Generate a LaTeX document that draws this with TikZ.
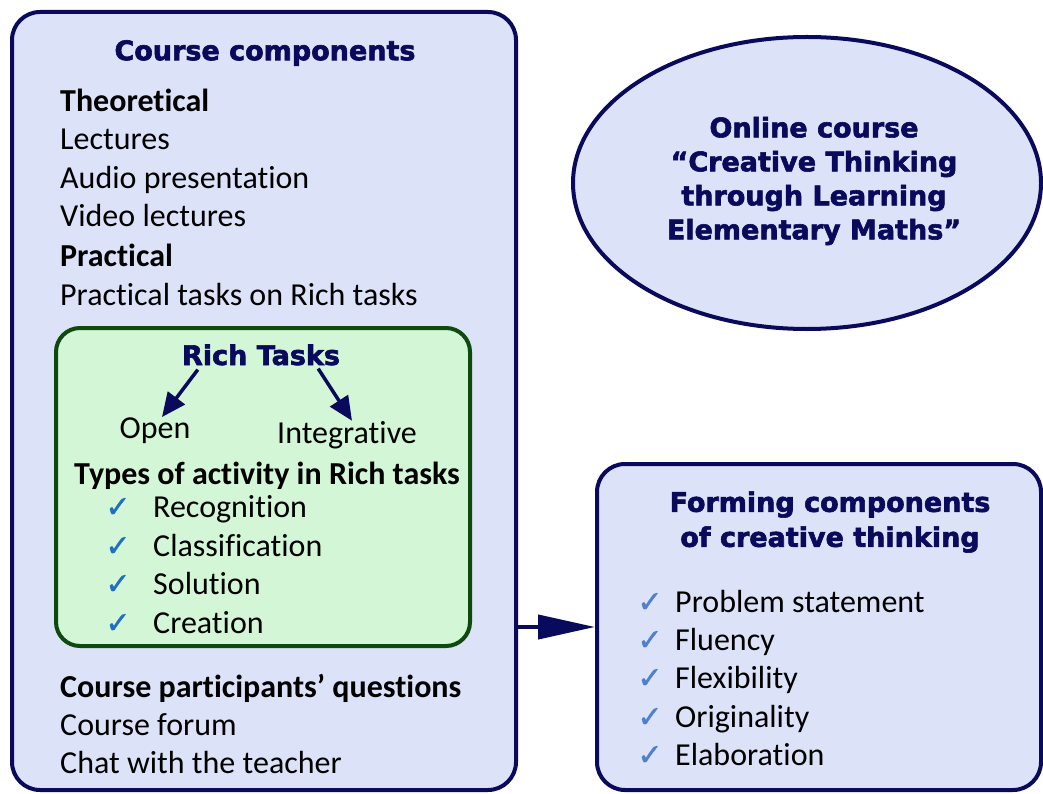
\documentclass[tikz,border=0pt]{standalone}
\usepackage{fontspec}
\setmainfont{Carlito}[Ligatures=NoCommon]
\newfontfamily\headfont{DejaVu Sans}[BoldFeatures={FakeBold=2.2}]
\newfontfamily\symfont{DejaVu Sans}[FakeBold=1.2]
\usepackage{xcolor}
\usetikzlibrary{shapes}
\usetikzlibrary{arrows.meta}
\usetikzlibrary{positioning}
\definecolor{navy}{HTML}{0A0A5C}
\definecolor{lavender}{HTML}{DCE2F8}
\definecolor{mint}{HTML}{D3F6D6}
\definecolor{darkgreen}{HTML}{0D4A0D}
\definecolor{tickblue}{HTML}{1F6FC2}
\definecolor{tickpale}{HTML}{4F80CC}
\tikzset{ panel/.style = {rectangle, rounded corners=28pt, draw=navy, line width=4pt, fill=lavender, inner sep=0pt} }
\tikzset{ greenbox/.style = {rectangle, rounded corners=24pt, draw=darkgreen, line width=4pt, fill=mint, inner sep=0pt} }
\tikzset{ oval/.style = {ellipse, draw=navy, line width=4pt, fill=lavender, inner sep=0pt} }
\tikzset{ head/.style = {inner sep=0pt, align=center, font=\headfont\bfseries\fontsize{27}{35}\selectfont, text=navy} }
\tikzset{ item/.style = {inner sep=0pt, anchor=base west, font=\fontsize{32}{38}\selectfont} }
\tikzset{ itembold/.style = {item, font=\bfseries\fontsize{32}{38}\selectfont} }
\tikzset{ tick/.style = {inner sep=0pt, anchor=base, font=\symfont\fontsize{30}{34}\selectfont} }
\tikzset{ smallarrow/.style = {draw=navy, line width=3.5pt, -{Triangle[length=24pt,width=21pt]}} }
\tikzset{ bigarrow/.style = {draw=navy, line width=4pt, -{Triangle[length=57pt,width=24pt]}} }

\begin{document}
\begin{tikzpicture}[x=1pt,y=-1pt]
\useasboundingbox (0,0) rectangle (1043,794);
% the three frames
\node [style=panel, minimum width=504pt, minimum height=778pt] (course) at (264,401) {};
\node [style=oval, minimum width=468pt, minimum height=292pt] (online) at (807,183) {};
\node [style=head, font=\headfont\bfseries\fontsize{27}{34}\selectfont] (onlinetext) at (814,181)
      {Online course\\“Creative Thinking\\through Learning\\Elementary Maths”};
\node [style=panel, minimum width=444pt, minimum height=326pt] (forming) at (819,627) {};
\draw [style=bigarrow] (course.east |- forming.west) -- (forming.west);

% course components
\node [style=head] (coursehead) at (265,53) {Course components};
\node [style=itembold] (theo) at (60,112) {Theoretical};
\node [style=item] (lect) at (60,150) {Lectures};
\node [style=item] (audio) at (60,189) {Audio presentation};
\node [style=item] (video) at (60,227) {Video lectures};
\node [style=itembold] (prac) at (60,266) {Practical};
\node [style=item] (ptasks) at (60,305) {Practical tasks on Rich tasks};

% rich tasks
\node [style=greenbox, minimum width=414pt, minimum height=318pt] (tasks) at (263,487) {};
\node [style=head, anchor=base] (rich) at (261,365) {Rich Tasks};
\node [style=item, anchor=base] (open) at (155,438) {Open};
\node [style=item, anchor=base] (integ) at (347,443) {Integrative};
\draw [style=smallarrow] ([xshift=16pt,yshift=-4pt]rich.south west) -- ([xshift=7pt]open.north);
\draw [style=smallarrow] ([xshift=-22pt,yshift=-3pt]rich.south east) -- ([xshift=5pt]integ.north);
\node [style=itembold, anchor=base] (types) at (267,484) {Types of activity in Rich tasks};
\foreach \txt/\yy [count=\i] in {Recognition/517, Classification/556, Solution/594, Creation/633} {
    \node [style=tick, text=tickblue] (rtick\i) at (118,\yy) {✓};
    \node [style=item] (ract\i) at (153,\yy) {\txt};
}

% questions
\node [style=itembold] (quest) at (60,697) {Course participants’ questions};
\node [style=item] (forum) at (60,735) {Course forum};
\node [style=item] (chat) at (60,773) {Chat with the teacher};

% forming components
\node [style=head] (forminghead) at (830,522) {Forming components\\of creative thinking};
\foreach \txt/\yy [count=\i] in {Problem statement/612, Fluency/650, Flexibility/688, Originality/727, Elaboration/765} {
    \node [style=tick, text=tickpale] (ftick\i) at (650,\yy) {✓};
    \node [style=item] (fcomp\i) at (675,\yy) {\txt};
}
\end{tikzpicture}
\end{document}
